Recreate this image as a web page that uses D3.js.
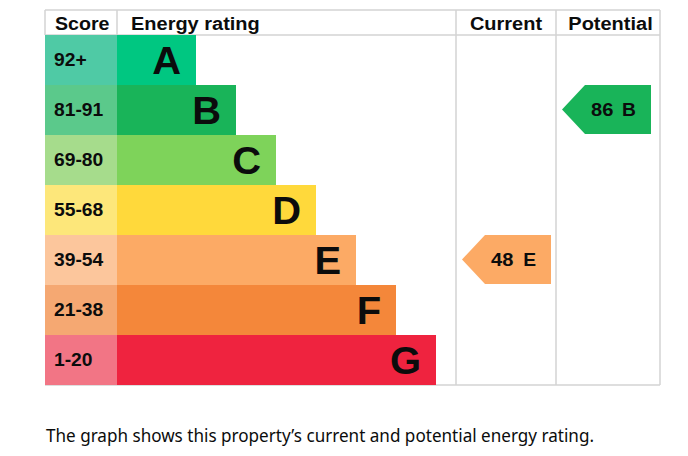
<!DOCTYPE html>
<html><head><meta charset="utf-8">
<script src="https://cdn.jsdelivr.net/npm/d3@7"></script>
<style>html,body{margin:0;padding:0;background:#fff;}svg{display:block;}</style>
</head><body>
<svg id="c" width="688" height="456"></svg>
<script>
const ratings = ["A","B","C","D","E","F","G"];
const scoreRanges = ["92+","81-91","69-80","55-68","39-54","21-38","1-20"];
const barSteps = [1,2,3,4,5,6,7];
const barColors = ["#00c781","#19b459","#7ed35a","#ffd93b","#fcaa65","#f4873a","#ef233f"];
const scoreColors = ["#4fcaa5","#5bc98b","#a6dc8c","#fde77a","#fcc69c","#f5a872","#f27585"];
const currentValue = 48, currentRating = "E";
const potentialValue = 86, potentialRating = "B";
const headers = ["Score","Energy rating","Current","Potential"];
const caption = "The graph shows this property\u2019s current and potential energy rating.";

(function () {
const svg = d3.select("#c");
const L = 45, scoreRight = 117, curLeft = 456, potLeft = 556, R = 660;
const T = 10, headBottom = 35, B = 385;
const font = "'Liberation Sans', Arial, sans-serif";
const ink = "#0b0c0c";

const y = d3.scaleBand().domain(ratings).range([headBottom, B]).padding(0);
const x = d3.scaleLinear().domain([0, 7]).range([156, 436]);

function label(parent, tx, ty, txt, size, sx, anchor) {
  return parent.append("text")
    .attr("transform", `translate(${tx},${ty}) scale(${sx},1)`)
    .attr("text-anchor", anchor || "start")
    .attr("font-family", font).attr("font-weight", "bold").attr("font-size", size).attr("fill", ink)
    .text(txt);
}

const grid = "#d3d3d3";
const lines = [
  [L, T, R, T],
  [L, headBottom, R, headBottom],
  [L, B, R, B],
  [L, T, L, headBottom],
  [scoreRight, T, scoreRight, headBottom],
  [curLeft, T, curLeft, B],
  [potLeft, T, potLeft, B],
  [R, T, R, B]
];
svg.append("g").selectAll("line").data(lines).join("line")
  .attr("x1", d => d[0]).attr("y1", d => d[1]).attr("x2", d => d[2]).attr("y2", d => d[3])
  .attr("stroke", grid).attr("stroke-width", 1.5);

const hg = svg.append("g");
label(hg, 55, 30, headers[0], 18.5, 1.06, "start");
label(hg, 131, 30, headers[1], 18.5, 1.08, "start");
label(hg, 506, 30, headers[2], 18.5, 1.08, "middle");
label(hg, 610.5, 30, headers[3], 18.5, 1.08, "middle");

const rg = svg.append("g");
ratings.forEach((d, i) => {
  const yy = y(d), h = y.bandwidth();
  rg.append("rect").attr("x", L).attr("y", yy).attr("width", scoreRight - L).attr("height", h)
    .attr("fill", scoreColors[i]);
  rg.append("rect").attr("x", scoreRight).attr("y", yy).attr("width", x(barSteps[i]) - scoreRight)
    .attr("height", h).attr("fill", barColors[i]);
  label(rg, 54, yy + h / 2 + 6, scoreRanges[i], 18, 1.07, "start");
  label(rg, x(barSteps[i]) - 15, yy + h / 2 + 13.5, d, 38, 1.05, "end");
});

function arrow(colLeft, value, rating) {
  const i = ratings.indexOf(rating);
  const tip = colLeft + 6, r = colLeft + 95, t = y(rating), h = y.bandwidth() - 1, pt = 23;
  const g = svg.append("g");
  g.append("path").attr("d", `M${tip},${t + h / 2} L${tip + pt},${t} L${r},${t} L${r},${t + h} L${tip + pt},${t + h} Z`)
    .attr("fill", barColors[i]);
  label(g, tip + 29, t + h / 2 + 6.5, value, 17.5, 1.15, "start");
  label(g, r - 15, t + h / 2 + 6.5, rating, 17.5, 1.1, "end");
}
arrow(curLeft, currentValue, currentRating);
arrow(potLeft, potentialValue, potentialRating);

svg.append("text").attr("x", 46).attr("y", 442)
  .attr("font-family", "'Noto Sans', sans-serif").attr("font-size", 18).attr("fill", ink)
  .attr("textLength", 548).attr("lengthAdjust", "spacingAndGlyphs")
  .text(caption);
})();
</script>
</body></html>
